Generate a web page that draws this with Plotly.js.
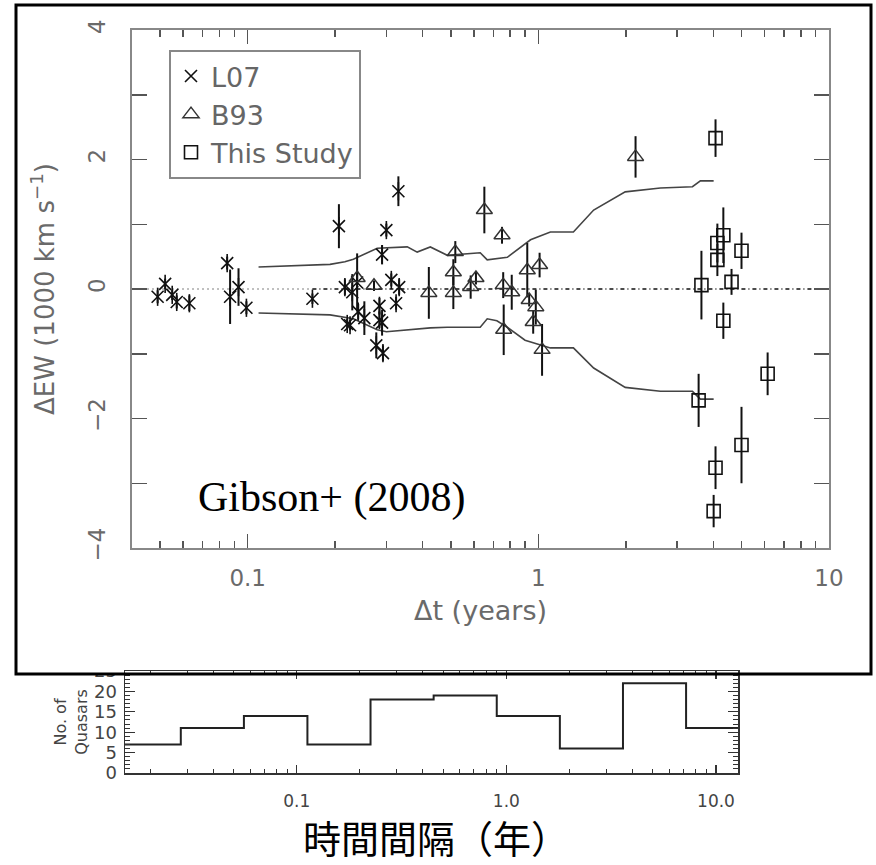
<!DOCTYPE html>
<html><head><meta charset="utf-8">
<script src="https://cdn.plot.ly/plotly-3.0.1.min.js"></script>
<style>html,body{margin:0;padding:0;background:#fff}#chart{width:876px;height:865px}</style>
</head><body><div id="chart"></div>
<script>
// ---- L07 (asterisks) ----
const l07X   = [0.049, 0.052, 0.055, 0.057, 0.063, 0.085, 0.087, 0.093, 0.099, 0.167, 0.206, 0.216, 0.229, 0.238, 0.220, 0.225, 0.240, 0.252, 0.284, 0.284, 0.290, 0.277, 0.292, 0.290, 0.300, 0.330, 0.312, 0.332, 0.324];
const l07Y   = [-0.12, 0.08, -0.09, -0.20, -0.22, 0.40, -0.12, 0.03, -0.29, -0.15, 0.97, 0.03, -0.05, 0.10, -0.54, -0.56, -0.35, -0.45, -0.26, -0.48, -0.52, -0.87, -0.99, 0.53, 0.91, 1.51, 0.14, 0.03, -0.22];
const l07Err = [0.10, 0.08, 0.08, 0.10, 0.12, 0.10, 0.42, 0.29, 0.10, 0.08, 0.34, 0.12, 0.28, 0.45, 0.08, 0.08, 0.12, 0.26, 0.12, 0.12, 0.20, 0.20, 0.12, 0.15, 0.10, 0.23, 0.10, 0.12, 0.10];
// ---- B93 (triangles) ----
const b93X   = [0.238, 0.272, 0.42, 0.51, 0.51, 0.518, 0.585, 0.61, 0.652, 0.75, 0.757, 0.76, 0.81, 0.916, 0.93, 0.96, 0.98, 1.01, 1.03, 2.16];
const b93Y   = [0.17, 0.05, -0.06, -0.06, 0.26, 0.57, 0.03, 0.17, 1.22, 0.83, 0.06, -0.63, -0.05, 0.29, -0.17, -0.51, -0.28, 0.37, -0.94, 2.04];
const b93Err = [0.10, 0.08, 0.40, 0.25, 0.20, 0.17, 0.18, 0.10, 0.36, 0.13, 0.20, 0.39, 0.27, 0.42, 0.10, 0.18, 0.27, 0.19, 0.40, 0.32];
// ---- This Study (squares) ----
const studyX   = [4.07, 4.33, 4.13, 4.13, 5.0, 4.62, 3.64, 4.33, 6.15, 3.56, 5.0, 4.07, 4.01];
const studyY   = [2.33, 0.83, 0.71, 0.45, 0.59, 0.11, 0.06, -0.49, -1.31, -1.72, -2.41, -2.76, -3.43];
const studyErr = [0.29, 0.43, 0.30, 0.25, 0.28, 0.20, 0.53, 0.28, 0.33, 0.41, 0.59, 0.33, 0.25];
// ---- envelope curves ----
const envUpX = [0.109, 0.192, 0.216, 0.231, 0.279, 0.354, 0.383, 0.425, 0.486, 0.631, 0.667, 0.782, 0.94, 1.10, 1.32, 1.55, 1.99, 2.63, 3.39, 3.61, 4.01];
const envUpY = [0.34, 0.38, 0.42, 0.46, 0.63, 0.65, 0.57, 0.65, 0.52, 0.56, 0.45, 0.49, 0.76, 0.88, 0.88, 1.22, 1.50, 1.56, 1.58, 1.67, 1.67];
const envLoX = [0.109, 0.192, 0.231, 0.279, 0.30, 0.354, 0.425, 0.486, 0.631, 0.667, 0.72, 0.782, 0.90, 1.10, 1.32, 1.55, 1.99, 2.63, 3.39, 3.61, 4.01];
const envLoY = [-0.37, -0.40, -0.46, -0.63, -0.66, -0.63, -0.60, -0.59, -0.59, -0.46, -0.49, -0.59, -0.79, -0.91, -0.91, -1.22, -1.52, -1.58, -1.58, -1.70, -1.70];
// ---- zero reference line ----
const zeroGrayX = [0.04, 0.167];
const zeroBlackX = [0.167, 10];
const zeroY = [0, 0];
// ---- histogram ----
const histEdges = [0.014, 0.028, 0.056, 0.1125, 0.225, 0.45, 0.9, 1.8, 3.6, 7.2, 14.4];
const histCounts = [7, 11, 14, 7, 18, 19, 14, 6, 22, 11];
// ---- tick labels ----
const mainXTicks = [0.1, 1, 10];
const mainXTickText = ['0.1', '1', '10'];
const mainYTicks = [-4, -2, 0, 2, 4];
const mainYTickText = ['\u22124', '\u22122', '0', '2', '4'];
const histXTickText = ['0.1', '1.0', '10.0'];
const histYTicks = [0, 5, 10, 15, 20, 25];
const minorLogTicks = [0.02,0.03,0.04,0.05,0.06,0.07,0.08,0.09,0.2,0.3,0.4,0.5,0.6,0.7,0.8,0.9,2,3,4,5,6,7,8,9,20];

const histY = histCounts.concat([histCounts[histCounts.length - 1]]);

const errStyle = (arr) => ({type: 'data', array: arr, visible: true, width: 0, thickness: 2, color: '#111'});

const traces = [
  {x: envUpX, y: envUpY, mode: 'lines', line: {color: '#444', width: 1.6}, showlegend: false, hoverinfo: 'skip'},
  {x: envLoX, y: envLoY, mode: 'lines', line: {color: '#444', width: 1.6}, showlegend: false, hoverinfo: 'skip'},
  {x: zeroGrayX, y: zeroY, mode: 'lines', line: {color: '#aaa', width: 1.5, dash: '2px,3px'}, showlegend: false},
  {x: zeroBlackX, y: zeroY, mode: 'lines', line: {color: '#111', width: 1.5, dash: '4px,3px,1px,3px'}, showlegend: false},
  {x: l07X, y: l07Y, mode: 'markers', name: 'L07', error_y: errStyle(l07Err),
   marker: {symbol: 'x-thin-open', size: 12, color: '#111', line: {width: 1.6, color: '#111'}}},
  {x: l07X, y: l07Y, mode: 'markers', showlegend: false,
   marker: {symbol: 'line-ns-open', size: 13, color: '#111', line: {width: 1.6, color: '#111'}}},
  {x: b93X, y: b93Y, mode: 'markers', name: 'B93', error_y: errStyle(b93Err),
   marker: {symbol: 'triangle-up-open', size: 14, color: '#333', line: {width: 1.5, color: '#333'}}},
  {x: studyX, y: studyY, mode: 'markers', name: 'This Study', error_y: errStyle(studyErr),
   marker: {symbol: 'square-open', size: 13, color: '#111', line: {width: 1.6, color: '#111'}}},
  {x: histEdges, y: histY, xaxis: 'x2', yaxis: 'y2', mode: 'lines', line: {shape: 'hv', color: '#222', width: 2}, showlegend: false}
];

const W = 876, H = 865;
const px = v => v / W, py = v => 1 - v / H;
const FAM = 'DejaVu Sans, Verdana, sans-serif';
const tickFont = {family: FAM, size: 23, color: '#6a6a6a'};
const histFont = {family: FAM, size: 18, color: '#444'};

const layout = {
  width: W, height: H,
  margin: {l: 0, r: 0, t: 0, b: 0},
  paper_bgcolor: '#fff', plot_bgcolor: '#fff',
  showlegend: true,
  legend: {x: px(169), y: py(50), xanchor: 'left', yanchor: 'top',
    bordercolor: '#888', borderwidth: 2, bgcolor: 'rgba(255,255,255,0)',
    font: {family: FAM, size: 27, color: '#666'},
    itemwidth: 30, tracegroupgap: 0},
  xaxis: {type: 'log', range: [-1.398, 1], domain: [px(132), px(829)], anchor: 'y',
    tickmode: 'array', tickvals: mainXTicks, ticktext: mainXTickText,
    ticks: 'inside', ticklen: 14, tickwidth: 1.5, tickcolor: '#555',
    minor: {tickmode: 'array', tickvals: minorLogTicks, ticks: 'inside', ticklen: 7, tickwidth: 1.5, tickcolor: '#555'},
    showline: true, linecolor: '#888', linewidth: 2, mirror: 'ticks',
    showgrid: false, zeroline: false, tickfont: tickFont, ticklabelstandoff: 8,
    title: {text: '\u0394t (years)', font: {family: FAM, size: 27, color: '#6a6a6a'}, standoff: 12},
    automargin: false},
  yaxis: {range: [-4, 4], domain: [py(548), py(30)], anchor: 'x',
    tickmode: 'array', tickvals: mainYTicks, ticktext: mainYTickText, tickangle: -90,
    ticks: 'inside', ticklen: 15, tickwidth: 1.5, tickcolor: '#555',
    minor: {dtick: 1, ticks: 'inside', ticklen: 15, tickwidth: 1.5, tickcolor: '#555'},
    showline: true, linecolor: '#888', linewidth: 2, mirror: 'ticks',
    showgrid: false, zeroline: false, tickfont: tickFont, ticklabelstandoff: 16,
    title: {text: '\u0394EW (1000 km s<sup>\u22121</sup>)', font: {family: FAM, size: 26, color: '#6a6a6a'}, standoff: 22},
    automargin: false},
  xaxis2: {type: 'log', range: [-1.819, 1.105], domain: [px(125), px(738)], anchor: 'y2',
    tickmode: 'array', tickvals: mainXTicks, ticktext: histXTickText,
    ticks: 'inside', ticklen: 8, tickwidth: 1.2, tickcolor: '#333',
    minor: {tickmode: 'array', tickvals: minorLogTicks, ticks: 'inside', ticklen: 4, tickwidth: 1, tickcolor: '#333'},
    showline: true, linecolor: '#333', linewidth: 1.5, mirror: 'ticks',
    showgrid: false, zeroline: false, tickfont: {family: FAM, size: 17, color: '#444'}, ticklabelstandoff: 12, automargin: false},
  yaxis2: {range: [0, 25], domain: [py(773), py(671)], anchor: 'x2',
    tickmode: 'array', tickvals: histYTicks,
    ticks: 'inside', ticklen: 10, tickwidth: 1.2, tickcolor: '#333',
    minor: {dtick: 1, ticks: 'inside', ticklen: 5, tickwidth: 1, tickcolor: '#333'},
    showline: true, linecolor: '#333', linewidth: 1.5, mirror: 'ticks',
    showgrid: false, zeroline: false, tickfont: histFont, ticklabelstandoff: 3,
    title: {text: 'No. of<br>Quasars', font: {family: FAM, size: 16, color: '#444'}, standoff: 2},
    automargin: false},
  shapes: [
    {type: 'rect', xref: 'paper', yref: 'paper', x0: px(0), x1: px(123), y0: py(674), y1: py(640), fillcolor: '#fff', line: {width: 0}, layer: 'above'},
    {type: 'rect', xref: 'paper', yref: 'paper', x0: px(16), x1: px(871), y0: py(674), y1: py(5), line: {color: '#000', width: 3}, layer: 'above'}
  ],
  annotations: [
    {text: 'Gibson+ (2008)', xref: 'paper', yref: 'paper', x: px(196), y: py(497), xanchor: 'left', yanchor: 'middle', showarrow: false,
     font: {family: 'Liberation Serif, Times New Roman, serif', size: 42, color: '#000'}},
    {text: '時間間隔（年）', xref: 'paper', yref: 'paper', x: px(436), y: py(836), xanchor: 'center', yanchor: 'middle', showarrow: false,
     font: {family: 'Noto Sans CJK JP, sans-serif', size: 38, color: '#000', weight: 400}}
  ]
};

Plotly.newPlot('chart', traces, layout, {displayModeBar: false, staticPlot: true});
</script>
</body></html>
